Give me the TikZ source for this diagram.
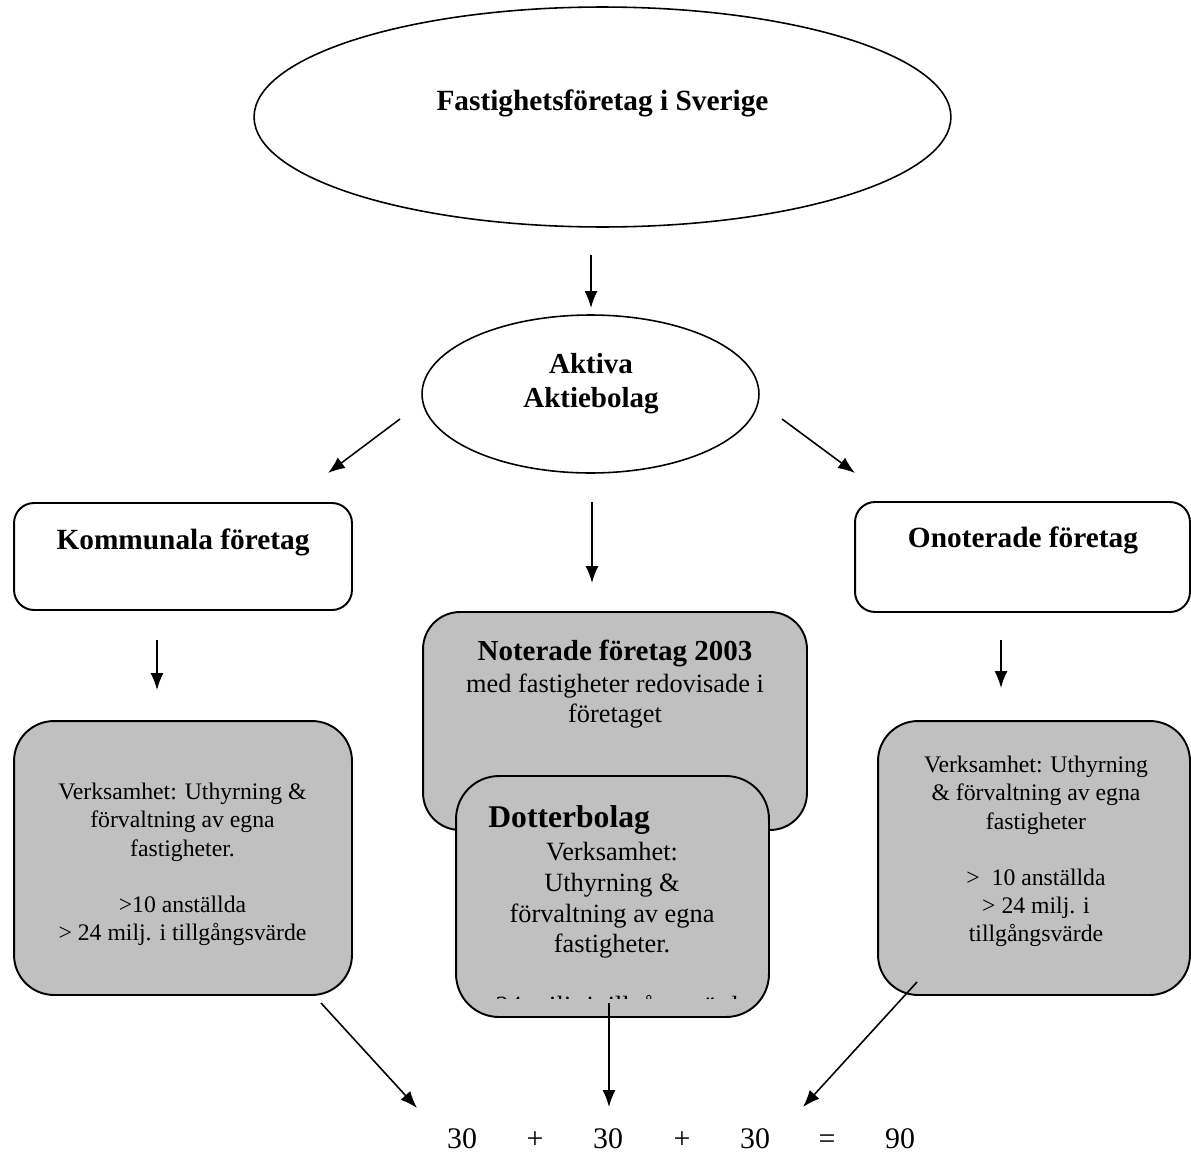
\documentclass[tikz,border=0pt]{standalone}
\usepackage{fontspec}
\setmainfont{Liberation Serif}
\usepackage{tikz}
\usetikzlibrary{positioning}
\usetikzlibrary{shapes.geometric, arrows.meta}
\definecolor{boxgray}{RGB}{192,192,192}
\tikzstyle{arrow} = [line width=0.9pt,-{Latex[length=0.34cm,width=0.26cm]}]
\tikzstyle{oval} = [draw, ellipse, line width=0.9pt, inner sep=0pt]
\tikzstyle{whitebox} = [draw, rectangle, rounded corners=0.4cm, line width=1.1pt, inner sep=0pt]
\tikzstyle{graybox} = [draw, rectangle, fill=boxgray, rounded corners=0.8cm, line width=1.1pt, inner sep=0pt]
\tikzstyle{headtext} = [inner sep=0pt, font=\fontsize{16.7}{19.5}\selectfont\bfseries]
\tikzstyle{bodytext} = [inner sep=0pt, align=center, font=\fontsize{13.5}{16}\selectfont]
\tikzstyle{sumtext} = [inner sep=0pt, anchor=base, font=\fontsize{17}{20}\selectfont]

\begin{document}
\begin{tikzpicture}[x=0.02cm,y=-0.02cm]
  \useasboundingbox (0,0) rectangle (1191,1153);

  % top ellipses
  \node[oval, minimum width=13.94cm, minimum height=4.4cm] (sverige) at (602.5,117) {};
  \node[headtext, anchor=base] (sverigetext) at (602.5,110) {Fastighetsföretag i Sverige};
  \node[oval, minimum width=6.74cm, minimum height=3.16cm] (aktiva) at (590.5,394) {};
  \node[headtext, align=center, anchor=north, font=\fontsize{16.5}{19.3}\selectfont\bfseries] (aktivatext) at (591,353) {Aktiva\\Aktiebolag};

  % white boxes
  \node[whitebox, minimum width=6.76cm, minimum height=2.14cm] (kommunala) at (183,556.5) {};
  \node[headtext, anchor=base] (kommtext) at (183,549) {Kommunala företag};
  \node[whitebox, minimum width=6.7cm, minimum height=2.2cm] (onoterade) at (1022.5,557) {};
  \node[headtext, anchor=base] (onottext) at (1023,547) {Onoterade företag};

  % gray boxes
  \node[graybox, minimum width=6.76cm, minimum height=5.48cm] (kommverks) at (183,858) {};
  \node[bodytext, anchor=north] (kommverkstext) at (182.5,783)
    {Verksamhet: Uthyrning \&\\förvaltning av egna\\fastigheter.\\[16pt]>10 anställda\\> 24 milj. i tillgångsvärde};
  \node[graybox, minimum width=6.24cm, minimum height=5.48cm] (onotverks) at (1034,858) {};
  \node[bodytext, anchor=north] (onotverkstext) at (1036,756)
    {Verksamhet: Uthyrning\\\& förvaltning av egna\\fastigheter\\[16pt]> \ 10 anställda\\> 24 milj. i\\tillgångsvärde};

  \node[graybox, rounded corners=0.74cm, minimum width=7.68cm, minimum height=4.36cm] (noterade) at (615,721) {};
  \node[bodytext, anchor=north, font=\fontsize{15}{17}\selectfont] (noteradetext) at (615,640)
    {{\fontsize{16.5}{17}\selectfont\bfseries Noterade företag 2003}\\[1pt]med fastigheter redovisade i\\företaget};
  \node[graybox, rounded corners=0.86cm, minimum width=6.26cm, minimum height=4.82cm] (dotter) at (612.5,896.5) {};
  \node[headtext, anchor=base west, font=\fontsize{18}{20}\selectfont\bfseries] (dottertitle) at (488,827) {Dotterbolag};
  \begin{scope}
    \clip (456,776) rectangle (769,998);
    \node[bodytext, anchor=north, font=\fontsize{15}{17.5}\selectfont] (dottertext) at (612,842)
      {Verksamhet:\\Uthyrning \&\\förvaltning av egna\\fastigheter.\\[17.5pt]> 24 milj. i tillgångsvärde};
  \end{scope}

  % arrow ends
  \coordinate (a1s) at (591,255);  \coordinate (a1e) at (591,308);
  \coordinate (a2s) at (400,419);  \coordinate (a2e) at (328,473);
  \coordinate (a3s) at (782,419);  \coordinate (a3e) at (855,473);
  \coordinate (a4s) at (592,502);  \coordinate (a4e) at (592,583);
  \coordinate (a5s) at (157,640);  \coordinate (a5e) at (157,690);
  \coordinate (a6s) at (1001,640); \coordinate (a6e) at (1001,688);
  \coordinate (a7s) at (321,1003); \coordinate (a7e) at (417,1108);
  \coordinate (a8s) at (609,1003); \coordinate (a8e) at (609,1107);
  \coordinate (a9s) at (917,982);  \coordinate (a9e) at (803,1107);

  %arrows
  \draw[arrow] (a1s) -- (a1e);
  \draw[arrow] (a2s) -- (a2e);
  \draw[arrow] (a3s) -- (a3e);
  \draw[arrow] (a4s) -- (a4e);
  \draw[arrow] (a5s) -- (a5e);
  \draw[arrow] (a6s) -- (a6e);
  \draw[arrow] (a7s) -- (a7e);
  \draw[arrow] (a8s) -- (a8e);
  \draw[arrow] (a9s) -- (a9e);

  % sum
  \node[sumtext] (sum1) at (462,1148) {30};
  \node[sumtext] (plus1) at (535,1148) {+};
  \node[sumtext] (sum2) at (608,1148) {30};
  \node[sumtext] (plus2) at (682,1148) {+};
  \node[sumtext] (sum3) at (755,1148) {30};
  \node[sumtext] (equals) at (827,1148) {=};
  \node[sumtext] (total) at (900,1148) {90};
\end{tikzpicture}
\end{document}
